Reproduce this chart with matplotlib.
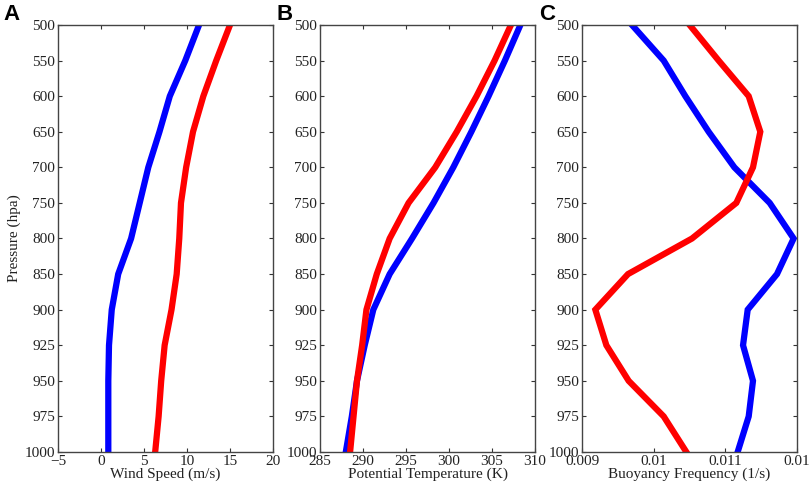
import numpy as np
import matplotlib.pyplot as plt

plt.rcParams['font.family'] = ['Liberation Serif', 'DejaVu Serif']

levels = [500, 550, 600, 650, 700, 750, 800, 850, 900, 925, 950, 975, 1000]

# panel A: wind speed (m/s)
wind_blue = [11.4, 9.8, 8.0, 6.8, 5.5, 4.5, 3.5, 2.0, 1.25, 0.93, 0.85, 0.85, 0.85]
wind_red = [15.0, 13.4, 11.9, 10.7, 9.9, 9.3, 9.1, 8.8, 8.2, 7.4, 7.0, 6.7, 6.3]

# panel B: potential temperature (K)
theta_red = [307.2, 305.3, 303.2, 300.9, 298.4, 295.3, 293.1, 291.6, 290.4, 289.9, 289.3, 288.9, 288.5]
theta_blue = [308.3, 306.5, 304.6, 302.6, 300.5, 298.2, 295.7, 293.1, 291.2, 290.2, 289.3, 288.7, 288.0]

# panel C: buoyancy frequency (1/s)
n_blue = [0.009698, 0.01014, 0.010442, 0.010767, 0.011126, 0.011619, 0.011953,
          0.011721, 0.011312, 0.011247, 0.011386, 0.011326, 0.011172]
n_red = [0.010502, 0.010907, 0.011326, 0.011488, 0.011386, 0.011153, 0.010535,
         0.009642, 0.009186, 0.00934, 0.009651, 0.01014, 0.010456]

xticks_a = [-5, 0, 5, 10, 15, 20]
xlabels_a = ['\u22125', '0', '5', '10', '15', '20']
xticks_b = [285, 290, 295, 300, 305, 310]
xlabels_b = ['285', '290', '295', '300', '305', '310']
xticks_c = [0.009, 0.010, 0.011, 0.012]
xlabels_c = ['0.009', '0.01', '0.011', '0.01']

fig = plt.figure(figsize=(8.09, 4.88), dpi=100)
lefts = [58 / 809, 320 / 809, 582 / 809]
w = 215 / 809
bot = 1 - 452 / 488
h = 427 / 488

pos = np.arange(len(levels))

panels = [
    (wind_blue, wind_red, xticks_a, xlabels_a, 'Wind Speed (m/s)', 'A'),
    (theta_blue, theta_red, xticks_b, xlabels_b, 'Potential Temperature (K)', 'B'),
    (n_blue, n_red, xticks_c, xlabels_c, 'Buoyancy Frequency (1/s)', 'C'),
]

for i, (blue, red, xt, xtl, xlab, letter) in enumerate(panels):
    ax = fig.add_axes([lefts[i], bot, w, h])
    ax.plot(blue, pos, color='#0000ff', lw=4.5, solid_joinstyle='miter')
    ax.plot(red, pos, color='#ff0000', lw=4.5, solid_joinstyle='miter')
    ax.set_ylim(len(levels) - 1, 0)
    ax.set_yticks(pos)
    ax.set_yticklabels([str(l) for l in levels])
    ax.set_xlim(xt[0], xt[-1])
    ax.set_xticks(xt)
    ax.set_xticklabels(xtl)
    ax.tick_params(direction='in', top=True, right=True, length=3,
                   labelsize=11, colors='#333333', labelcolor='#222222', pad=2)
    for s in ax.spines.values():
        s.set_color('#444444')
        s.set_linewidth(1.0)
    ax.set_xlabel(xlab, fontsize=11, labelpad=0, color='#222222')
    if i == 0:
        ax.set_ylabel('Pressure (hpa)', fontsize=11, labelpad=3, color='#222222')
    fig.text(lefts[i] - 55 / 809 if i == 0 else lefts[i] - 43 / 809, 1 - 14 / 488, letter,
             fontsize=16, fontweight='bold', family='Liberation Sans', va='center', ha='left')

fig.savefig('out.png', dpi=100)
